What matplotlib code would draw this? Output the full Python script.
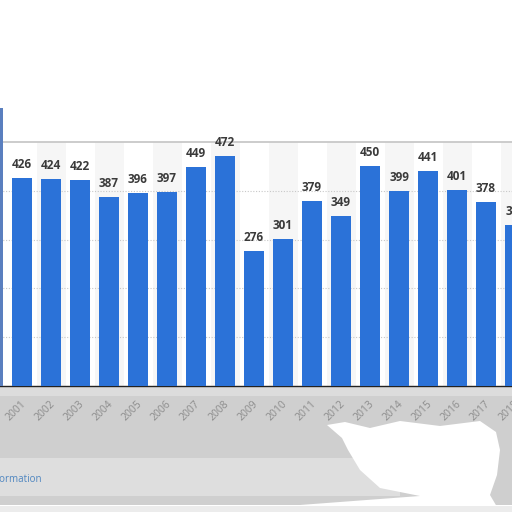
import matplotlib
matplotlib.use("Agg")
import matplotlib.pyplot as plt
import numpy as np
from matplotlib.patches import Rectangle, Polygon

# values (2018 label is cut off, estimated)
years = ['2001', '2002', '2003', '2004', '2005', '2006', '2007', '2008', '2009',
         '2010', '2011', '2012', '2013', '2014', '2015', '2016', '2017', '2018']
values = [426, 424, 422, 387, 396, 397, 449, 472, 276,
          301, 379, 349, 450, 399, 441, 401, 378, 330]

W = H = 512


def fx(px):
    return px / W


def fy(py):
    return 1 - py / H


fig = plt.figure(figsize=(5.12, 5.12), dpi=100)
fig.patch.set_facecolor('white')

# blurry grey footer area below the chart
fig.add_artist(Rectangle((0, fy(505)), 1, fy(387) - fy(505), transform=fig.transFigure,
                         color='#cfcfcf', zorder=-3, lw=0))
fig.add_artist(Rectangle((0, fy(396)), 1, fy(387) - fy(396), transform=fig.transFigure,
                         color='#dcdcdc', zorder=-2, lw=0))
fig.add_artist(Rectangle((0, fy(496)), fx(400), fy(458) - fy(496), transform=fig.transFigure,
                         color='#dedede', zorder=-2, lw=0))
blob = [(327, 425), (345, 422), (370, 428), (400, 421), (440, 426), (480, 421), (496, 432),
        (500, 450), (497, 475), (490, 495), (500, 512), (300, 512), (300, 505), (420, 496),
        (380, 488), (360, 470), (348, 450), (342, 438)]
fig.add_artist(Polygon([(fx(a), fy(b)) for a, b in blob], closed=True, transform=fig.transFigure,
                       color='white', zorder=-2, lw=0))
fig.add_artist(Rectangle((0, 0), 1, fy(506), transform=fig.transFigure,
                         color='#ececec', zorder=-2, lw=0))
# thin strip at the left edge
fig.add_artist(Rectangle((0, fy(386)), fx(3), fy(108) - fy(386), transform=fig.transFigure,
                         color='#5a7fbf', zorder=3, lw=0))

ax = fig.add_axes([0, fy(386), 1, fy(142) - fy(386)])
x = np.arange(len(years))

for i in x:
    if i % 2 == 1:
        ax.axvspan(i - 0.5, i + 0.5, color='#f6f6f6', zorder=0, lw=0)

bars = ax.bar(x, values, width=0.69, color='#2b72d8', zorder=3)
for xi, v in zip(x, values):
    ax.annotate(str(v), (xi, v), xytext=(0, 5), textcoords='offset points',
                ha='center', va='bottom', fontsize=8.5, fontweight='bold',
                family=['Open Sans', 'DejaVu Sans'], color='#3a3a3a', zorder=4,
                annotation_clip=False)

# rotated year labels under the bars
for xi, yr in zip(x, years):
    ax.annotate(yr, (xi, 0), xycoords=('data', 'axes fraction'), xytext=(2, -12),
                textcoords='offset points', rotation=45, ha='right', va='center',
                rotation_mode='anchor', fontsize=7.5, color='#8c8c8c',
                family=['Open Sans', 'DejaVu Sans'], annotation_clip=False)

ax.set_xlim(-22 / 29, (512 - 22) / 29)
ax.set_ylim(0, 500)
ax.set_yticks([100, 200, 300, 400])
ax.set_yticklabels([])
ax.yaxis.grid(True, linestyle=(0, (1, 1.5)), color='#c8c8c8', linewidth=0.8, zorder=1)
ax.set_axisbelow(True)
ax.tick_params(axis='y', length=0)
ax.set_xticks([])

for s in ['left', 'right']:
    ax.spines[s].set_visible(False)
ax.spines['top'].set_color('#c8c8c8')
ax.spines['top'].set_linewidth(1.3)
ax.spines['bottom'].set_color('#222222')
ax.spines['bottom'].set_linewidth(1.0)
ax.set_facecolor('white')

fig.text(fx(42), fy(479), 'Additional Information', ha='right', va='center',
         fontsize=7, color='#4f86c0', family=['Open Sans', 'DejaVu Sans'])

fig.savefig('out.png', dpi=100)
